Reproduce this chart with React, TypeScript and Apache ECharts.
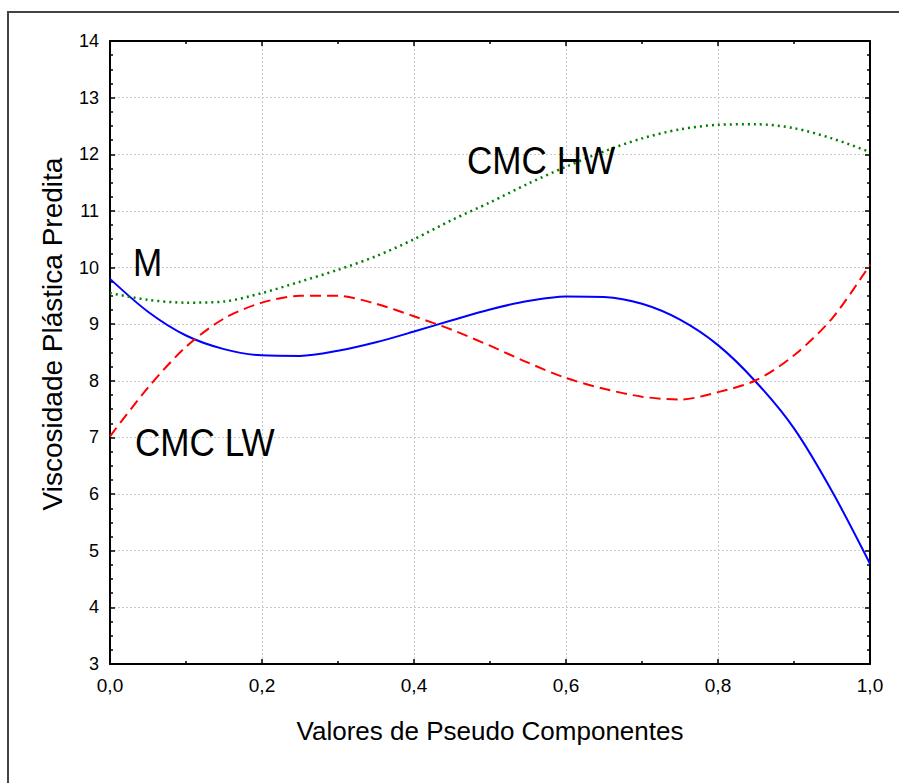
import React, { useEffect, useRef } from "react";
import * as echarts from "echarts";

const xValues = [0, 0.05, 0.1, 0.15, 0.2, 0.25, 0.3, 0.35, 0.4, 0.45, 0.5, 0.55, 0.6, 0.65, 0.7, 0.75, 0.8, 0.85, 0.9, 0.95, 1.0];
const mValues = [9.8, 9.22, 8.8, 8.56, 8.45, 8.44, 8.53, 8.68, 8.87, 9.07, 9.26, 9.41, 9.49, 9.48, 9.36, 9.08, 8.63, 7.98, 7.16, 6.05, 4.77];
const lwValues = [7.02, 7.88, 8.6, 9.1, 9.38, 9.5, 9.5, 9.36, 9.14, 8.9, 8.62, 8.32, 8.05, 7.86, 7.72, 7.67, 7.8, 8.01, 8.45, 9.1, 10.05];
const hwValues = [9.55, 9.43, 9.38, 9.4, 9.55, 9.75, 9.96, 10.2, 10.5, 10.84, 11.15, 11.48, 11.78, 12.05, 12.28, 12.44, 12.52, 12.53, 12.46, 12.28, 12.04];

const xAxisTitle = "Valores de Pseudo Componentes";
const yAxisTitle = "Viscosidade Plástica Predita";
const annotations = [
  { text: "M", x: 133, y: 275 },
  { text: "CMC LW", x: 135, y: 455 },
  { text: "CMC HW", x: 467, y: 173 },
];

const FONT = "Liberation Sans, Arial, Helvetica, sans-serif";

export default function App() {
  const ref = useRef<HTMLDivElement>(null);
  useEffect(() => {
    if (!ref.current) return;
    const chart = echarts.init(ref.current, null, { renderer: "svg" });
    const pair = (vals: number[]) => xValues.map((x, i) => [x, vals[i]]);
    const axisLineStyle = { color: "#000", width: 2 };
    const baseX = {
      type: "value" as const,
      min: 0,
      max: 1,
      interval: 0.2,
      axisLine: { show: true, lineStyle: axisLineStyle, onZero: false },
      axisTick: { show: true, inside: true, length: 5, lineStyle: { color: "#000", width: 1.5 } },
      minorTick: { show: true, splitNumber: 2, length: 3, lineStyle: { color: "#000", width: 1.5 } },
    };
    const baseY = {
      type: "value" as const,
      min: 3,
      max: 14,
      interval: 1,
      axisLine: { show: true, lineStyle: axisLineStyle, onZero: false },
      axisTick: { show: true, inside: true, length: 5, lineStyle: { color: "#000", width: 1.5 } },
      minorTick: { show: true, splitNumber: 4, length: 3, lineStyle: { color: "#000", width: 1.5 } },
    };
    chart.setOption({
      animation: false,
      backgroundColor: "#fff",
      grid: { left: 110, top: 41, right: 29, bottom: 119, containLabel: false },
      xAxis: [
        {
          ...baseX,
          position: "bottom",
          axisLabel: {
            fontFamily: FONT,
            fontSize: 19,
            color: "#000",
            margin: 12,
            formatter: (v: number) => v.toFixed(1).replace(".", ","),
          },
          splitLine: { show: true, lineStyle: { color: "#c8c8c8", type: [2, 2], width: 1 } },
        },
        {
          ...baseX,
          position: "top",
          axisLabel: { show: false },
          splitLine: { show: false },
        },
      ],
      yAxis: [
        {
          ...baseY,
          position: "left",
          axisLabel: { fontFamily: FONT, fontSize: 18, color: "#000", margin: 11 },
          splitLine: { show: true, lineStyle: { color: "#c8c8c8", type: [2, 2], width: 1 } },
        },
        {
          ...baseY,
          position: "right",
          axisLabel: { show: false },
          splitLine: { show: false },
        },
      ],
      series: [
        {
          name: "M",
          type: "line",
          data: pair(mValues),
          smooth: 0.3,
          showSymbol: false,
          lineStyle: { color: "#0000ff", width: 2, type: "solid" },
          z: 3,
        },
        {
          name: "CMC LW",
          type: "line",
          data: pair(lwValues),
          smooth: 0.3,
          showSymbol: false,
          lineStyle: { color: "#ff0000", width: 2, type: [11, 6] },
          z: 3,
        },
        {
          name: "CMC HW",
          type: "line",
          data: pair(hwValues),
          smooth: 0.3,
          showSymbol: false,
          lineStyle: { color: "#008000", width: 2.5, type: [2, 4] },
          z: 3,
        },
      ],
      graphic: [
        {
          type: "rect",
          silent: true,
          shape: { x: 8, y: 12, width: 1000, height: 1000 },
          style: { fill: "none", stroke: "#444", lineWidth: 2 },
          z: 100,
        },
        ...annotations.map((a) => ({
          type: "text",
          x: a.x,
          y: a.y + 7,
          scaleX: 0.9,
          style: {
            text: a.text,
            fontFamily: FONT,
            fontSize: 39,
            fill: "#000",
            verticalAlign: "bottom",
          },
          z: 50,
        })),
        {
          type: "text",
          x: 490,
          y: 731,
          style: {
            text: xAxisTitle,
            fontFamily: FONT,
            fontSize: 26,
            fill: "#000",
            align: "center",
            verticalAlign: "middle",
          },
        },
        {
          type: "text",
          x: 52,
          y: 334,
          rotation: Math.PI / 2,
          style: {
            text: yAxisTitle,
            fontFamily: FONT,
            fontSize: 28,
            fill: "#000",
            align: "center",
            verticalAlign: "middle",
          },
        },
      ],
    });
    return () => chart.dispose();
  }, []);
  return (
    <div
      ref={ref}
      style={{ position: "fixed", left: 0, top: 0, width: 899, height: 783, background: "#fff" }}
    />
  );
}
